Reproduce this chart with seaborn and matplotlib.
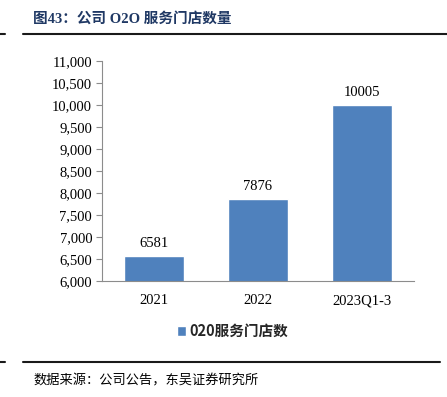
import matplotlib
matplotlib.use("Agg")
import matplotlib.pyplot as plt
import seaborn as sns
from matplotlib.lines import Line2D
from matplotlib.ticker import FuncFormatter, MultipleLocator

sns.set_style("white")
plt.rcParams['font.family'] = ['Liberation Serif', 'Noto Sans CJK SC', 'DejaVu Sans']

categories = ["2021", "2022", "2023Q1-3"]
values = [6581, 7876, 10005]
series_name = "020服务门店数"
title = "图43：公司 O2O 服务门店数量"
source = "数据来源：公司公告，东吴证券研究所"

fig = plt.figure(figsize=(4.47, 3.97), dpi=100)
ax = fig.add_axes([0.228, 0.292, 0.698, 0.554])

sns.barplot(x=categories, y=values, color="#4F81BD", width=0.57, ax=ax,
            label=series_name, saturation=1)
if ax.get_legend() is not None:
    ax.get_legend().remove()

ax.set_ylim(6000, 11000)
ax.yaxis.set_major_locator(MultipleLocator(500))
ax.yaxis.set_major_formatter(FuncFormatter(lambda v, p: f"{int(v):,}"))
ax.set_xlim(-0.5, 2.5)
ax.set_xlabel("")
ax.set_ylabel("")

for s in ["top", "right"]:
    ax.spines[s].set_visible(False)
for s in ["left", "bottom"]:
    ax.spines[s].set_color("#8C8C8C")
    ax.spines[s].set_linewidth(0.8)

ax.tick_params(axis="y", which="major", left=True, length=4, width=0.8,
               color="#8C8C8C", labelsize=10.5, pad=3, labelcolor="#000000")
ax.tick_params(axis="x", bottom=False, labelsize=10.5, pad=6, labelcolor="#000000")

for i, v in enumerate(values):
    ax.text(i, v + 130, str(v), ha="center", va="bottom", fontsize=10.5,
            family="Liberation Serif", color="#000000")

handles, labels = ax.get_legend_handles_labels()
leg = fig.legend(handles, labels, loc="center", bbox_to_anchor=(0.52, 0.166), frameon=False,
                 prop={"family": ["Noto Sans CJK SC"], "weight": "bold", "size": 10.5},
                 handlelength=0.6, handleheight=0.6, handletextpad=0.2)

fig.text(0.074, 0.952, title, ha="left", va="center", fontsize=10.5,
         fontweight="bold", color="#1F3864",
         family=["Liberation Serif", "Noto Sans CJK SC"])
fig.text(0.074, 0.040, source, ha="left", va="center", fontsize=9.5,
         color="#000000", family=["Noto Sans CJK SC"], fontweight="light")

lc = "#1A1A1A"
fig.add_artist(Line2D([0.051, 1.0], [0.914, 0.914], transform=fig.transFigure, color=lc, lw=1.5))
fig.add_artist(Line2D([0.0, 0.011], [0.914, 0.914], transform=fig.transFigure, color=lc, lw=1.5))
fig.add_artist(Line2D([0.051, 0.985], [0.088, 0.088], transform=fig.transFigure, color=lc, lw=1.5))
fig.add_artist(Line2D([0.0, 0.011], [0.088, 0.088], transform=fig.transFigure, color=lc, lw=1.5))

fig.savefig("out.png", dpi=100)
